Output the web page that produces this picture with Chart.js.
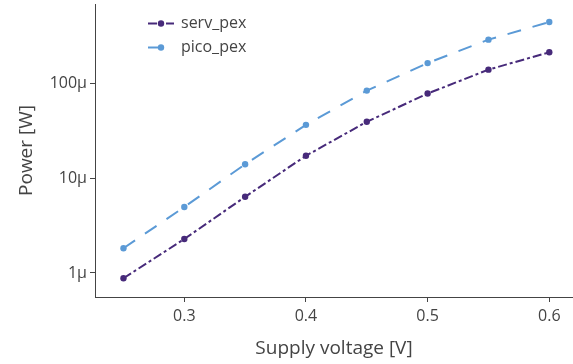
<!DOCTYPE html>
<html>
<head>
<meta charset="utf-8">
<script src="https://cdn.jsdelivr.net/npm/chart.js@4"></script>
<style>
  html, body { margin: 0; padding: 0; background: #fff; }
  #wrap { width: 573px; height: 364px; }
</style>
</head>
<body>
<div id="wrap"><canvas id="chart" width="573" height="364"></canvas></div>
<script>
// Supply voltage sweep (V)
const voltage = [0.25, 0.3, 0.35, 0.4, 0.45, 0.5, 0.55, 0.6];

// Power (W)
const servPex = [0.88e-6, 2.28e-6, 6.35e-6, 17.2e-6, 39.2e-6, 77.8e-6, 139e-6, 212e-6];
const picoPex = [1.82e-6, 4.96e-6, 14.0e-6, 36.4e-6, 83.6e-6, 163e-6, 288e-6, 442e-6];

// Axis ticks
const xTicks = [0.3, 0.4, 0.5, 0.6];
const yTicks = [1e-6, 1e-5, 1e-4];
const yTickLabels = ['1μ', '10μ', '100μ'];

const textColor = '#444';
const fontFamily = "'Open Sans', sans-serif";

const toPoints = (ys) => voltage.map((v, i) => ({ x: v, y: ys[i] }));

// no extra room for overflowing tick labels, the plot fills the canvas edge
const noPadding = (scale) => {
  scale.paddingTop = 0;
  scale.paddingBottom = 0;
  scale.paddingLeft = 0;
  scale.paddingRight = 0;
};

// Plotly-style legend: dashed line sample with a marker, then the name
const legendPlugin = {
  id: 'lineLegend',
  afterDraw(chart) {
    const ctx = chart.ctx;
    ctx.save();
    chart.data.datasets.forEach((ds, i) => {
      const y = 23.5 + i * 24;
      ctx.strokeStyle = ds.borderColor;
      ctx.lineWidth = ds.borderWidth;
      ctx.setLineDash(ds.borderDash || []);
      ctx.beginPath();
      ctx.moveTo(148, y);
      ctx.lineTo(174, y);
      ctx.stroke();
      ctx.setLineDash([]);
      ctx.fillStyle = ds.borderColor;
      ctx.beginPath();
      ctx.arc(161, y, 3.2, 0, Math.PI * 2);
      ctx.fill();
      ctx.fillStyle = textColor;
      ctx.font = '16px ' + fontFamily;
      ctx.textBaseline = 'middle';
      ctx.textAlign = 'left';
      ctx.fillText(ds.label, 181, y);
    });
    ctx.restore();
  }
};

new Chart(document.getElementById('chart'), {
  type: 'line',
  data: {
    datasets: [
      {
        label: 'serv_pex',
        data: toPoints(servPex),
        borderColor: '#472a7a',
        backgroundColor: '#472a7a',
        borderWidth: 2,
        borderDash: [9, 3, 3, 3],
        pointRadius: 3.2,
        pointBorderWidth: 0,
        tension: 0
      },
      {
        label: 'pico_pex',
        data: toPoints(picoPex),
        borderColor: '#5b9ad6',
        backgroundColor: '#5b9ad6',
        borderWidth: 2,
        borderDash: [14, 12],
        pointRadius: 3.2,
        pointBorderWidth: 0,
        tension: 0
      }
    ]
  },
  options: {
    responsive: false,
    animation: false,
    layout: { autoPadding: false, padding: { top: 4, right: 0, left: 0, bottom: 0 } },
    plugins: {
      legend: { display: false },
      tooltip: { enabled: false }
    },
    scales: {
      x: {
        type: 'linear',
        min: 0.2266,
        max: 0.6195,
        afterBuildTicks: (scale) => { scale.ticks = xTicks.map(v => ({ value: v })); },
        afterFit: (scale) => { scale.height = 67; noPadding(scale); },
        ticks: {
          color: textColor,
          font: { family: fontFamily, size: 16 },
          padding: 5,
          maxRotation: 0,
          callback: (v) => v.toFixed(1)
        },
        grid: {
          display: true,
          drawOnChartArea: false,
          drawTicks: true,
          tickLength: 5,
          color: textColor
        },
        border: { display: true, color: textColor, width: 1 },
        title: {
          display: true,
          text: 'Supply voltage [V]',
          color: textColor,
          font: { family: fontFamily, size: 19 },
          padding: { top: 0, bottom: 4 }
        }
      },
      y: {
        type: 'logarithmic',
        min: 5.58e-7,
        max: 6.84e-4,
        afterBuildTicks: (scale) => { scale.ticks = yTicks.map(v => ({ value: v })); },
        afterFit: (scale) => { scale.width = 95; noPadding(scale); },
        ticks: {
          color: textColor,
          font: { family: fontFamily, size: 16 },
          padding: 3,
          callback: (v) => {
            const i = yTicks.findIndex(t => Math.abs(t - v) / t < 1e-6);
            return i >= 0 ? yTickLabels[i] : '';
          }
        },
        grid: {
          display: true,
          drawOnChartArea: false,
          drawTicks: true,
          tickLength: 5,
          color: textColor
        },
        border: { display: true, color: textColor, width: 1 },
        title: {
          display: true,
          text: 'Power [W]',
          color: textColor,
          font: { family: fontFamily, size: 19 },
          padding: { top: 15, bottom: 0 }
        }
      }
    }
  },
  plugins: [legendPlugin]
});
</script>
</body>
</html>
